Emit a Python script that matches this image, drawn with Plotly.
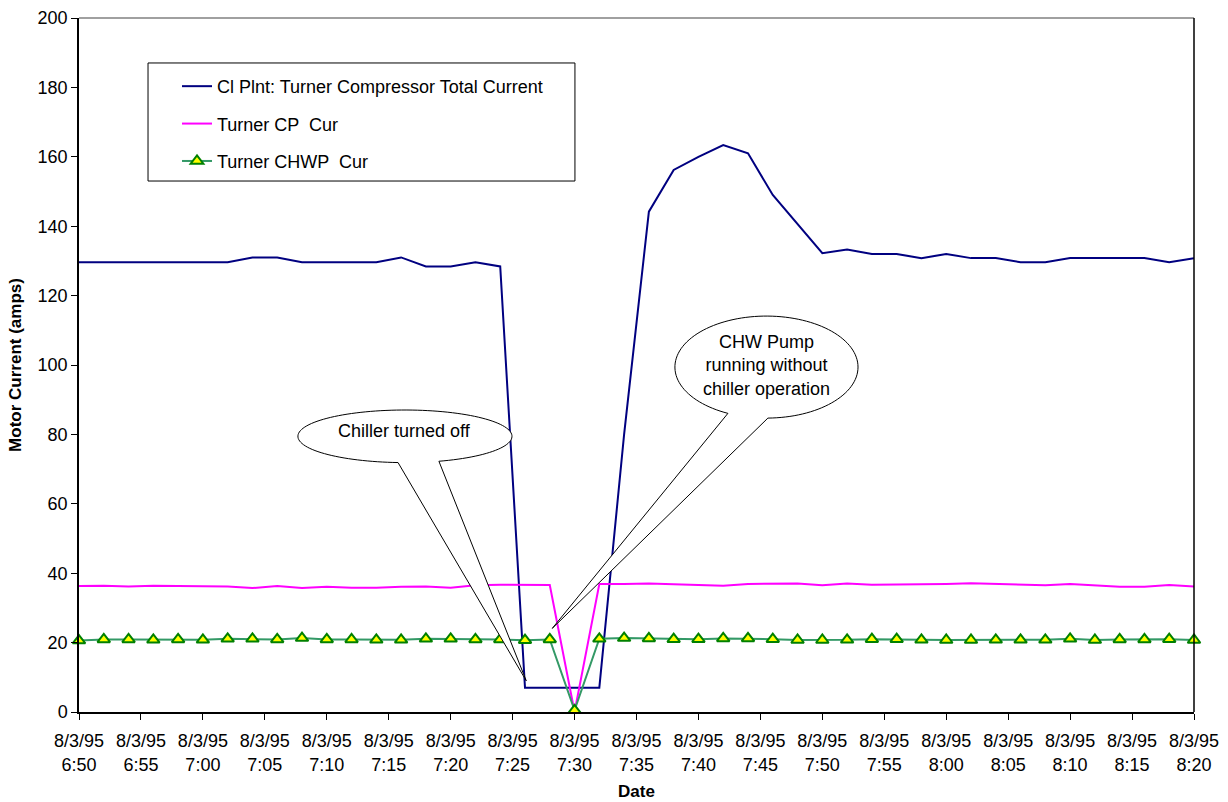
import math
import pandas as pd
import plotly.graph_objects as go

# Two-minute readings, 8/3/95 06:50 - 08:20
times = pd.date_range("1995-08-03 06:50", "1995-08-03 08:20", freq="2min")

compressor_total = [
    129.6, 129.6, 129.6, 129.6, 129.6, 129.6, 129.6, 131.0, 131.0, 129.6,
    129.6, 129.6, 129.6, 131.0, 128.4, 128.4, 129.6, 128.4, 7.0, 7.0,
    7.0, 7.0, 80.0, 144.2, 156.2, 160.0, 163.4, 161.0, 149.0, 140.5,
    132.2, 133.3, 132.0, 132.0, 130.8, 132.0, 130.8, 130.8, 129.6, 129.6,
    130.8, 130.8, 130.8, 130.8, 129.6, 130.8,
]
cp_current = [
    36.3, 36.4, 36.2, 36.4, 36.3, 36.2, 36.2, 35.7, 36.3, 35.7,
    36.1, 35.8, 35.8, 36.1, 36.2, 35.8, 36.5, 36.7, 36.7, 36.6,
    0.0, 36.9, 36.9, 37.0, 36.8, 36.6, 36.4, 36.9, 37.0, 37.0,
    36.5, 37.0, 36.7, 36.7, 36.7, 36.9, 37.1, 36.9, 36.5, 36.5,
    36.9, 36.4, 36.1, 36.1, 36.6, 36.2,
]
chwp_current = [
    20.6, 20.9, 20.9, 20.8, 20.9, 20.8, 21.1, 21.1, 20.9, 21.3,
    20.9, 20.9, 20.8, 20.8, 21.1, 21.1, 20.9, 20.9, 20.7, 20.9,
    0.5, 21.1, 21.3, 21.2, 21.0, 21.0, 21.2, 21.2, 21.0, 20.75,
    20.75, 20.8, 21.0, 21.0, 20.8, 20.75, 20.75, 20.8, 20.8, 20.8,
    21.1, 20.75, 20.9, 20.9, 21.0, 20.75,
]

series_names = [
    "Cl Plnt: Turner Compressor Total Current",
    "Turner CP  Cur",
    "Turner CHWP  Cur",
]

tick_times = pd.date_range("1995-08-03 06:50", "1995-08-03 08:20", freq="5min")
tick_labels = [
    "8/3/95<br>6:50", "8/3/95<br>6:55", "8/3/95<br>7:00", "8/3/95<br>7:05",
    "8/3/95<br>7:10", "8/3/95<br>7:15", "8/3/95<br>7:20", "8/3/95<br>7:25",
    "8/3/95<br>7:30", "8/3/95<br>7:35", "8/3/95<br>7:40", "8/3/95<br>7:45",
    "8/3/95<br>7:50", "8/3/95<br>7:55", "8/3/95<br>8:00", "8/3/95<br>8:05",
    "8/3/95<br>8:10", "8/3/95<br>8:15", "8/3/95<br>8:20",
]

X_SPAN_MIN = 90.0   # minutes shown on the x axis
Y_MAX = 200.0

FONT = "Liberation Sans, Arial, sans-serif"

fig = go.Figure()
fig.add_trace(go.Scatter(
    x=times, y=compressor_total, name=series_names[0], mode="lines",
    line=dict(color="#000080", width=2), legendgroup="a", cliponaxis=False,
))
fig.add_trace(go.Scatter(
    x=times, y=cp_current, name=series_names[1], mode="lines",
    line=dict(color="#FF00FF", width=2), legendgroup="b", cliponaxis=False,
))
fig.add_trace(go.Scatter(
    x=times, y=chwp_current, name=series_names[2], mode="lines+markers",
    line=dict(color="#339966", width=2),
    marker=dict(symbol="triangle-up", size=11, color="#FFFF00",
                line=dict(color="#008000", width=2)),
    legendgroup="c", cliponaxis=False,
))


def to_paper(minutes, amps):
    return minutes / X_SPAN_MIN, amps / Y_MAX


def callout_path(cx, cy, rx, ry, gap_start, gap_end, tip):
    """Ellipse (axis units) with a wedge pointer between two angles (deg)."""
    pts = []
    a0 = gap_end
    a1 = gap_start + 360.0
    n = 120
    for k in range(n + 1):
        a = math.radians(a0 + (a1 - a0) * k / n)
        pts.append(to_paper(cx + rx * math.cos(a), cy + ry * math.sin(a)))
    pts.append(to_paper(*tip))
    d = "M {:.5f},{:.5f} ".format(*pts[0])
    d += " ".join("L {:.5f},{:.5f}".format(px, py) for px, py in pts[1:])
    return d + " Z"


shapes = [
    # callout: chiller turned off
    dict(type="path", xref="paper", yref="paper",
         path=callout_path(26.31, 79.45, 8.64, 7.58, 266.3, 288.5, (36.1, 9.0)),
         line=dict(color="black", width=1), fillcolor="white", layer="above"),
    # callout: pump running without chiller
    dict(type="path", xref="paper", yref="paper",
         path=callout_path(55.49, 99.4, 7.39, 14.7, 245.1, 270.9, (38.2, 24.1)),
         line=dict(color="black", width=1), fillcolor="white", layer="above"),
    # plot-area frame: top and right edges
    dict(type="line", xref="paper", yref="paper", x0=0, x1=1, y0=1, y1=1,
         line=dict(color="#808080", width=1.5)),
    dict(type="line", xref="paper", yref="paper", x0=1, x1=1, y0=0, y1=1,
         line=dict(color="black", width=1.5)),
    # legend box
    dict(type="rect", xref="paper", yref="paper",
         x0=0.0619, x1=0.4448, y0=0.7651, y1=0.9352,
         line=dict(color="black", width=1), fillcolor="white", layer="below"),
]

ann1_x, ann1_y = to_paper(26.3, 81.1)
ann2_x, ann2_y = to_paper(55.5, 99.9)
annotations = [
    dict(x=ann1_x, y=ann1_y, xref="paper", yref="paper",
         xanchor="center", yanchor="middle",
         text="Chiller turned off", showarrow=False,
         font=dict(family=FONT, size=18, color="black")),
    dict(x=ann2_x, y=ann2_y, xref="paper", yref="paper",
         xanchor="center", yanchor="middle",
         text="CHW Pump<br>running without<br>chiller operation", showarrow=False,
         font=dict(family=FONT, size=18, color="black")),
]

fig.update_layout(
    width=1228, height=802,
    margin=dict(l=79, r=34, t=18, b=90),
    paper_bgcolor="white", plot_bgcolor="white",
    font=dict(family=FONT, size=18, color="black"),
    showlegend=True,
    legend=dict(
        x=0.0879, y=0.928, xanchor="left", yanchor="top",
        bgcolor="rgba(0,0,0,0)", borderwidth=0,
        font=dict(family=FONT, size=18, color="black"),
        traceorder="grouped", tracegroupgap=11,
    ),
    shapes=shapes,
    annotations=annotations,
)

fig.update_xaxes(
    range=[times[0], times[-1]],
    tickvals=tick_times, ticktext=tick_labels,
    ticks="outside", ticklen=6, tickcolor="black", tickwidth=1,
    ticklabelstandoff=6,
    showline=True, linecolor="black", linewidth=1.5,
    showgrid=False, zeroline=False,
    tickfont=dict(family=FONT, size=18, color="black"),
    title=dict(text="<b>Date</b>", font=dict(family=FONT, size=17, color="black"),
               standoff=11),
    automargin=False,
)
fig.update_yaxes(
    range=[0, Y_MAX], dtick=20,
    ticks="outside", ticklen=6, tickcolor="black", tickwidth=1,
    showline=True, linecolor="black", linewidth=1.5,
    showgrid=False, zeroline=False,
    tickfont=dict(family=FONT, size=18, color="black"),
    title=dict(text="<b>Motor Current (amps)</b>",
               font=dict(family=FONT, size=17, color="black"), standoff=12),
    automargin=False,
)

fig.write_html("out.html")
